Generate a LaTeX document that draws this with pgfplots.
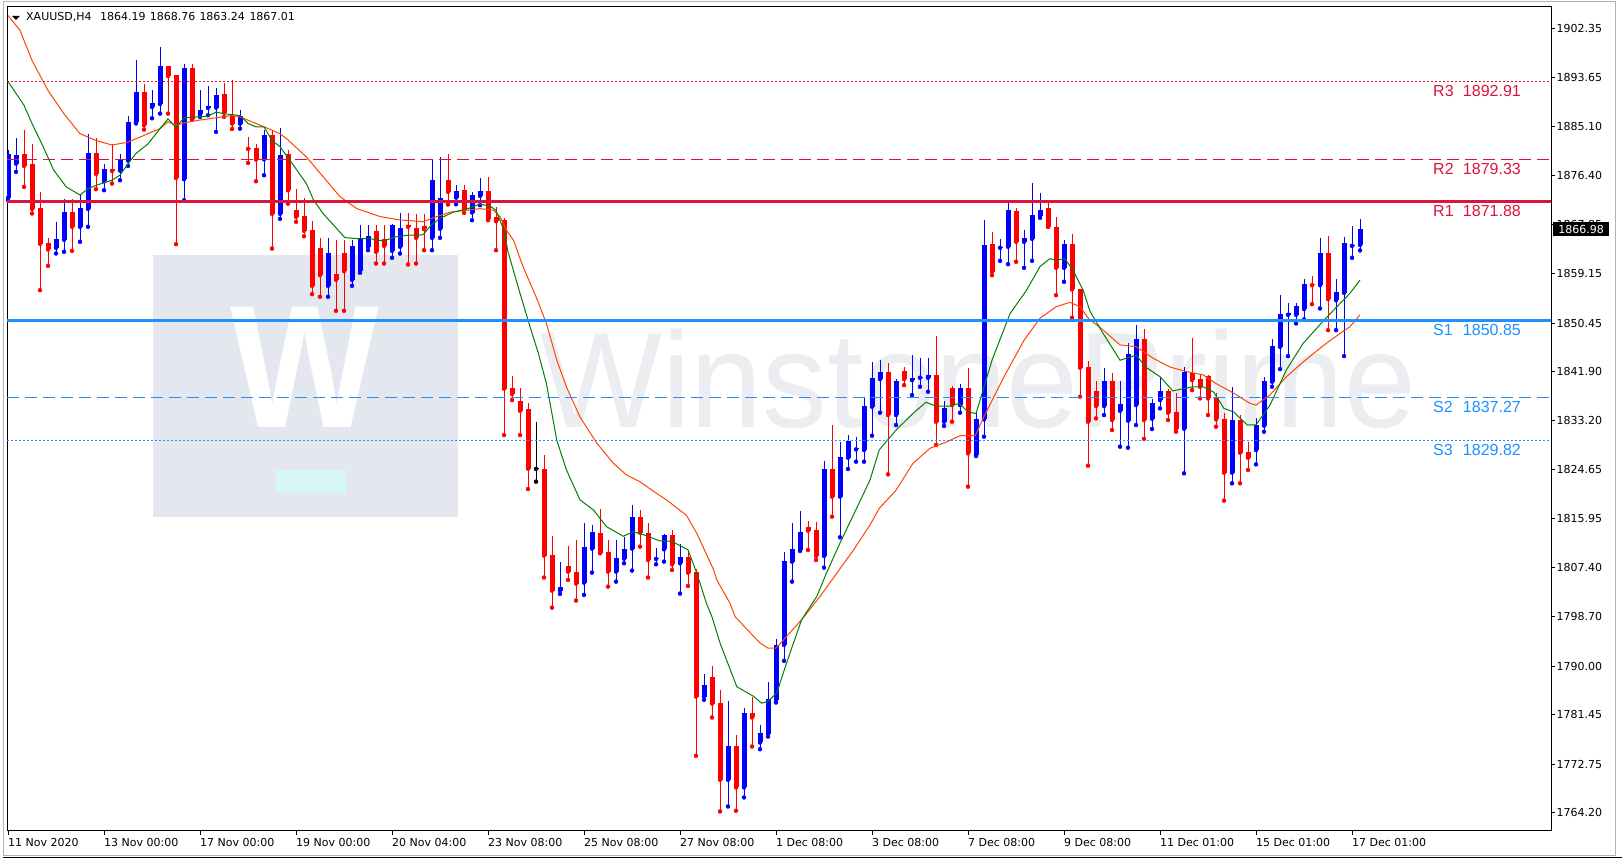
\documentclass[border=0pt]{standalone}
\usepackage{pgfplots}
\pgfplotsset{compat=1.18}
\usepackage{pgfplotstable}
\usepackage{fontspec}
\setmainfont{DejaVu Sans}
\newfontfamily\lvlfont{Liberation Sans}

\definecolor{crim}{RGB}{220,20,60}
\definecolor{dblue}{RGB}{30,144,255}
\definecolor{maGreen}{RGB}{0,128,0}
\definecolor{maOrange}{RGB}{255,69,0}
\definecolor{wmbox}{RGB}{229,231,239}
\definecolor{wmtext}{RGB}{236,237,240}
\definecolor{wmcyan}{RGB}{214,247,250}

% H4 bars, XAUUSD: index, open, high, low, close
\pgfplotstableread{
i o h l c
0 1872.49 1880.88 1872.08 1880.29
1 1878.53 1883.11 1877.07 1880.00
2 1880.18 1884.40 1874.43 1878.12
3 1878.42 1881.94 1869.74 1870.55
4 1870.67 1873.49 1856.24 1864.39
5 1864.57 1865.51 1860.52 1863.40
6 1863.69 1868.21 1862.70 1865.22
7 1865.10 1872.31 1862.99 1869.97
8 1869.97 1872.31 1863.16 1867.39
9 1867.39 1873.08 1864.75 1870.67
10 1870.55 1883.69 1867.39 1880.35
11 1880.35 1882.99 1874.02 1876.71
12 1875.42 1878.47 1873.84 1877.54
13 1877.54 1882.05 1875.01 1877.24
14 1877.30 1880.29 1875.60 1879.12
15 1879.06 1886.86 1878.12 1885.81
16 1885.81 1896.72 1885.60 1891.09
17 1891.09 1892.50 1884.52 1885.28
18 1888.50 1891.44 1886.51 1889.21
19 1889.03 1899.07 1887.33 1895.66
20 1895.66 1895.70 1887.33 1893.96
21 1894.08 1894.10 1864.33 1876.01
22 1875.78 1896.13 1872.08 1895.31
23 1895.31 1896.01 1886.28 1886.30
24 1887.22 1891.56 1886.75 1887.92
25 1888.33 1892.26 1887.04 1888.62
26 1888.39 1891.91 1884.11 1890.68
27 1890.74 1892.73 1886.75 1887.51
28 1886.86 1893.32 1884.63 1885.57
29 1885.57 1887.92 1884.69 1886.86
30 1881.35 1883.17 1878.65 1881.11
31 1881.23 1881.94 1875.42 1879.24
32 1879.29 1884.40 1876.48 1883.52
33 1883.52 1884.40 1863.57 1869.68
34 1869.68 1884.81 1868.79 1880.00
35 1880.18 1880.88 1871.49 1873.84
36 1870.32 1874.02 1868.27 1869.15
37 1869.27 1872.55 1865.74 1866.68
38 1866.80 1868.38 1855.54 1857.00
39 1863.63 1865.51 1855.07 1858.88
40 1857.00 1865.51 1855.07 1862.87
41 1859.06 1865.04 1852.60 1858.06
42 1862.87 1865.04 1852.60 1859.58
43 1858.06 1865.04 1857.00 1863.98
44 1859.64 1867.68 1859.29 1865.33
45 1863.87 1867.68 1863.28 1865.74
46 1866.62 1867.68 1860.93 1862.99
47 1865.33 1867.68 1860.93 1864.04
48 1863.16 1867.97 1861.93 1867.68
49 1863.87 1869.85 1862.69 1867.15
50 1867.68 1869.85 1860.76 1867.39
51 1867.15 1869.73 1860.93 1865.45
52 1867.50 1869.73 1863.28 1866.98
53 1865.45 1879.41 1863.28 1875.60
54 1867.03 1879.71 1865.45 1872.55
55 1875.60 1880.18 1871.32 1873.55
56 1872.55 1874.84 1871.37 1873.66
57 1873.84 1874.84 1869.85 1870.50
58 1869.91 1873.55 1868.56 1872.96
59 1872.84 1876.01 1871.20 1873.72
60 1873.66 1876.19 1868.56 1868.74
61 1869.15 1870.91 1863.28 1868.38
62 1868.56 1869.03 1830.72 1838.88
63 1838.93 1841.11 1836.88 1837.94
64 1836.70 1838.93 1830.72 1834.99
65 1835.30 1836.30 1821.22 1824.80
66 1824.86 1832.95 1822.51 1824.86
67 1824.74 1827.20 1805.62 1809.49
68 1809.60 1812.95 1800.33 1803.33
69 1803.33 1808.43 1802.74 1804.03
70 1807.67 1811.19 1805.20 1806.67
71 1806.61 1812.24 1801.57 1804.56
72 1804.73 1815.29 1802.57 1811.01
73 1810.72 1814.88 1806.49 1813.65
74 1813.48 1817.64 1809.90 1810.01
75 1810.13 1812.24 1804.03 1806.67
76 1806.67 1812.24 1804.91 1809.08
77 1808.96 1812.83 1808.14 1810.66
78 1810.72 1818.40 1806.85 1816.29
79 1816.29 1817.52 1811.07 1813.53
80 1813.53 1815.29 1805.62 1808.72
81 1808.90 1810.90 1807.96 1809.08
82 1810.60 1813.24 1808.43 1813.12
83 1813.12 1814.00 1806.96 1807.96
84 1808.14 1811.48 1802.80 1809.25
85 1809.25 1810.07 1804.15 1806.49
86 1806.61 1807.14 1774.23 1784.67
87 1784.67 1788.66 1784.09 1786.73
88 1788.13 1790.07 1780.98 1783.44
89 1783.56 1785.85 1764.43 1770.01
90 1770.01 1783.97 1765.31 1775.99
91 1775.99 1777.93 1764.55 1768.66
92 1768.66 1782.68 1766.90 1781.80
93 1781.80 1784.67 1775.87 1780.98
94 1776.58 1779.69 1775.40 1778.28
95 1778.10 1787.31 1777.63 1784.20
96 1784.09 1794.82 1783.62 1793.76
97 1793.76 1810.19 1790.95 1808.55
98 1808.43 1815.18 1804.91 1810.66
99 1810.48 1817.35 1810.31 1813.71
100 1814.53 1815.59 1810.48 1813.89
101 1814.00 1815.35 1808.72 1809.43
102 1809.43 1826.20 1807.37 1824.70
103 1824.74 1832.48 1816.35 1819.87
104 1819.87 1829.55 1812.71 1826.91
105 1826.73 1830.72 1824.74 1829.72
106 1828.20 1830.43 1826.03 1828.49
107 1828.09 1837.29 1826.03 1835.83
108 1835.71 1843.63 1830.60 1840.70
109 1840.58 1843.92 1834.65 1841.81
110 1841.81 1843.45 1823.80 1834.24
111 1834.24 1840.52 1832.48 1840.23
112 1841.99 1842.75 1839.52 1840.58
113 1840.40 1844.80 1837.76 1840.70
114 1840.81 1844.21 1839.23 1840.93
115 1840.81 1844.21 1838.35 1841.28
116 1841.28 1848.20 1828.96 1833.07
117 1833.07 1836.70 1832.31 1835.53
118 1838.93 1839.35 1833.07 1836.00
119 1836.00 1839.70 1834.65 1838.93
120 1838.93 1842.45 1821.63 1827.49
121 1827.20 1834.65 1827.03 1833.48
122 1833.48 1868.56 1830.43 1864.16
123 1864.34 1866.51 1858.88 1859.47
124 1863.69 1865.33 1861.40 1863.87
125 1863.87 1871.79 1860.82 1870.32
126 1870.14 1870.73 1861.23 1864.75
127 1864.75 1866.92 1860.17 1865.39
128 1865.27 1875.19 1861.40 1869.44
129 1869.32 1873.37 1868.97 1870.32
130 1870.73 1871.79 1867.39 1867.40
131 1867.39 1869.15 1855.36 1860.17
132 1860.17 1865.16 1857.71 1864.34
133 1864.34 1866.09 1851.37 1856.36
134 1856.36 1856.40 1837.47 1842.57
135 1842.63 1843.80 1825.32 1833.07
136 1838.47 1840.23 1833.66 1835.83
137 1835.83 1842.46 1834.24 1840.23
138 1840.23 1841.58 1831.60 1833.36
139 1835.00 1840.23 1828.67 1836.18
140 1833.25 1846.97 1828.49 1844.98
141 1836.00 1850.08 1832.48 1847.62
142 1847.62 1849.38 1830.02 1833.36
143 1833.60 1837.06 1831.78 1836.30
144 1836.88 1840.81 1835.42 1838.47
145 1838.47 1838.82 1833.36 1834.65
146 1834.77 1838.06 1831.31 1831.84
147 1831.84 1842.63 1823.98 1841.75
148 1841.58 1847.74 1838.64 1840.40
149 1840.64 1841.28 1837.18 1839.23
150 1841.11 1841.28 1834.24 1837.18
151 1837.29 1838.06 1832.19 1833.48
152 1833.54 1834.54 1819.17 1824.09
153 1824.09 1839.11 1822.22 1833.36
154 1833.36 1834.24 1822.22 1827.61
155 1827.73 1829.55 1824.56 1826.73
156 1828.08 1833.66 1825.56 1832.48
157 1832.37 1840.87 1831.31 1840.23
158 1840.11 1847.56 1839.23 1846.39
159 1846.27 1855.36 1842.34 1852.02
160 1851.90 1854.01 1844.63 1852.19
161 1851.90 1854.01 1850.38 1853.43
162 1852.90 1858.29 1851.08 1857.30
163 1857.30 1858.70 1853.78 1857.12
164 1857.12 1865.45 1853.01 1862.81
165 1862.81 1865.80 1849.20 1854.66
166 1854.48 1858.18 1849.20 1855.95
167 1855.77 1865.63 1844.63 1864.57
168 1864.04 1867.50 1861.93 1864.28
169 1864.19 1868.76 1863.24 1867.01
}\candles

% fast moving average (green)
\pgfplotstableread{
i v
0 1893.0
2 1888.8
3 1885.6
4.4 1881.5
5.7 1877.4
7.3 1874.4
9 1873.0
10 1874.1
11 1874.7
13 1875.6
14 1876.5
15 1878.5
16 1880.3
17.5 1882.0
18.5 1883.8
20 1886.4
21 1884.9
22 1886.6
23 1886.7
25 1886.9
26 1887.6
27 1887.3
29 1887.0
30 1885.6
31 1885.0
32 1885.0
33 1882.6
34 1881.5
35.7 1878.2
37.3 1875.0
38.2 1872.1
39.4 1869.7
40.7 1867.7
42.1 1865.5
43.6 1865.3
45.3 1865.3
46.9 1864.9
48.4 1865.6
49.8 1865.9
51.9 1866.0
52.9 1867.7
54 1868.9
55.7 1870.0
57.3 1870.5
59 1871.4
60.3 1871.0
61 1870.3
62 1866.8
62.5 1863.0
64 1855.7
65.25 1849.8
66.3 1845.1
67.3 1839.8
68.6 1829.8
69.8 1824.6
71.5 1819.3
73.2 1817.5
74.8 1814.6
76.9 1812.9
78.2 1813.7
79.8 1813.0
81.4 1812.1
83 1812.0
85 1810.5
86.1 1806.4
87.3 1801.1
88 1798.7
89 1794.1
91.1 1786.4
93.2 1784.7
94.2 1783.5
95 1783.8
96.1 1785.3
97.3 1790.5
99.2 1798.2
101.1 1802.3
102.3 1806.4
104 1811.7
106.2 1818.2
107.75 1822.8
108.9 1828.1
111 1831.6
113.1 1834.5
114.75 1836.5
116 1835.8
117.6 1835.8
118.9 1836.3
120 1834.8
121 1834.5
122 1839.2
123 1843.9
125.25 1852.1
127.3 1856.2
129 1860.4
130.25 1861.8
131 1861.5
132.1 1861.8
133.1 1859.8
134.4 1856.2
135.25 1852.5
136.9 1848.6
139 1843.9
141 1844.8
142.3 1842.6
144 1841.0
145.6 1838.5
148 1839.2
149.4 1839.2
150.7 1838.3
152 1835.4
153.2 1834.8
154.9 1832.5
156 1832.5
157.75 1836.0
159.8 1842.2
161.9 1846.9
164.6 1851.1
166.5 1853.9
167.75 1855.7
169 1858.0
}\maFast

% slow moving average (orange-red)
\pgfplotstableread{
i v
0 1904.6
1.5 1902.0
3 1896.7
5 1891.4
7 1887.3
9 1883.8
11 1882.6
13 1881.8
15 1882.3
17.5 1883.8
19 1884.7
20 1885.9
21 1885.3
22 1885.7
24 1886.2
26 1886.6
28 1887.0
29 1886.75
31 1885.6
32 1885.0
34 1883.8
35 1882.7
37.3 1879.7
39.4 1876.2
41.5 1872.7
43.6 1870.6
46.5 1869.2
49 1868.6
51.9 1868.3
53.6 1869.2
55.3 1870.0
57.3 1870.3
59 1870.6
60.7 1870.3
61.5 1869.2
62.3 1866.8
63.2 1865.0
64.4 1860.3
66 1855.1
67.3 1850.4
68.6 1843.9
69.8 1839.2
71.5 1833.9
73.6 1829.3
75.7 1825.7
77.3 1823.7
79 1822.5
80.7 1820.8
82.3 1819.3
84.8 1816.6
86.1 1813.4
88.2 1807.0
88.6 1805.2
90.25 1801.1
90.9 1798.7
94 1794.1
95 1793.2
96 1793.2
99.2 1798.2
101.5 1802.3
103.6 1806.4
105.7 1810.5
107.75 1814.9
108.9 1817.8
111 1821.0
113.1 1825.7
115.25 1828.4
117.3 1829.5
119 1830.6
120.9 1830.6
122 1834.0
124.5 1841.0
127 1847.4
129 1851.3
131 1853.3
132.75 1854.1
134 1853.3
135.1 1851.2
136.9 1849.2
139 1846.6
141 1846.3
143.2 1844.2
145.25 1842.7
147.3 1841.9
149.4 1841.3
151 1839.8
153.2 1838.1
155.25 1836.3
156 1836.0
157.75 1837.8
159.8 1841.0
161.9 1843.6
164 1846.0
165 1847.1
166.5 1848.6
167.75 1849.8
169 1851.9
}\maSlow

\pgfplotsset{
  wick/.style={only marks, mark=none, forget plot,
    error bars/y dir=plus, error bars/y explicit, error bars/error mark=none,
    error bars/error bar style={line width=1pt}},
  body/.style={only marks, mark=none, forget plot,
    error bars/y dir=plus, error bars/y explicit, error bars/error mark=none,
    error bars/error bar style={line width=5pt}},
}

\begin{document}
\begin{tikzpicture}[x=1pt,y=1pt]
\useasboundingbox (0,0) rectangle (1622,866);
\fill[white] (0,0) rectangle (1622,866);
% window frame
\draw[gray!60, line width=1pt] (3,10) rectangle (1615,864);
\draw[black, line width=1pt] (3,8.5) -- (1622,8.5);

% watermark
\fill[wmbox] (153,349) rectangle (458,611);
\node[inner sep=0pt, anchor=base, text=white, font=\lvlfont\bfseries\fontsize{175}{175}\selectfont]
  at (304.5,438) {\scalebox{0.9}[1]{W}};
\fill[wmcyan] (276,373) rectangle (346,396);
\node[inner sep=0pt, anchor=base west, text=wmtext, font=\lvlfont\fontsize{136}{136}\selectfont]
  at (540,438) {\scalebox{0.95}[1]{WinstonePrime}};

% header
\fill[black] (12,850) -- (20,850) -- (16,846) -- cycle;
\begin{scope}[every node/.style={inner sep=0pt, anchor=base west, font=\fontsize{11}{13}\selectfont}]
\node at (26,845) {XAUUSD,H4};
\node at (100,845) {1864.19};
\node at (149.7,845) {1868.76};
\node at (199.3,845) {1863.24};
\node at (249.3,845) {1867.01};
\end{scope}

\begin{axis}[
  at={(7pt,35pt)}, anchor=south west,
  scale only axis, width=1544pt, height=824pt,
  xmin=-0.125, xmax=192.875, ymin=1760.99, ymax=1906.11,
  clip mode=individual,
  axis line style={black, line width=1pt},
  tick align=outside, major tick length=4pt,
  tick style={black, line width=1pt},
  xtick pos=bottom, ytick pos=right, yticklabel pos=right,
  xtick={0,12,...,168},
  xticklabels={11 Nov 2020,13 Nov 00:00,17 Nov 00:00,19 Nov 00:00,20 Nov 04:00,23 Nov 08:00,25 Nov 08:00,27 Nov 08:00,1 Dec 08:00,3 Dec 08:00,7 Dec 08:00,9 Dec 08:00,11 Dec 01:00,15 Dec 01:00,17 Dec 01:00},
  ytick={1764.20,1772.75,1781.45,1790.00,1798.70,1807.40,1815.95,1824.65,1833.20,1841.90,1850.45,1859.15,1867.85,1876.40,1885.10,1893.65,1902.35},
  yticklabels={1764.20,1772.75,1781.45,1790.00,1798.70,1807.40,1815.95,1824.65,1833.20,1841.90,1850.45,1859.15,1867.85,1876.40,1885.10,1893.65,1902.35},
  xticklabel style={anchor=north west, inner xsep=0pt, inner ysep=3pt, font=\fontsize{11}{13}\selectfont},
  yticklabel style={anchor=west, inner xsep=1.5pt, font=\fontsize{11}{13}\selectfont},
]

% wicks
\addplot[wick, blue, restrict expr to domain={\thisrow{c}-\thisrow{o}}{0.001:1000}]
  table[x=i, y=l, y error expr=\thisrow{h}-\thisrow{l}] {\candles};
\addplot[wick, red, restrict expr to domain={\thisrow{c}-\thisrow{o}}{-1000:-0.001}]
  table[x=i, y=l, y error expr=\thisrow{h}-\thisrow{l}] {\candles};
\addplot[wick, black, restrict expr to domain={\thisrow{c}-\thisrow{o}}{-0.0005:0.0005}]
  table[x=i, y=l, y error expr=\thisrow{h}-\thisrow{l}] {\candles};
% bodies
\addplot[body, blue, restrict expr to domain={\thisrow{c}-\thisrow{o}}{0.001:1000}]
  table[x=i, y expr={min(\thisrow{o},\thisrow{c})}, y error expr={max(abs(\thisrow{c}-\thisrow{o}),0.2)}] {\candles};
\addplot[body, red, restrict expr to domain={\thisrow{c}-\thisrow{o}}{-1000:-0.001}]
  table[x=i, y expr={min(\thisrow{o},\thisrow{c})}, y error expr={max(abs(\thisrow{c}-\thisrow{o}),0.2)}] {\candles};
\addplot[body, black, restrict expr to domain={\thisrow{c}-\thisrow{o}}{-0.0005:0.0005}]
  table[x=i, y expr={min(\thisrow{o},\thisrow{c})-0.1}, y error expr={0.2}] {\candles};

% moving averages
\addplot[maOrange, line width=1pt, mark=none] table[x=i, y=v] {\maSlow};
\addplot[maGreen, line width=1pt, mark=none] table[x=i, y=v] {\maFast};

% pivot levels
\addplot[crim, line width=1pt, dash pattern=on 2pt off 2pt] coordinates {(-0.125,1892.91) (192.875,1892.91)};
\addplot[crim, line width=1pt, dash pattern=on 12pt off 6pt] coordinates {(-0.125,1879.33) (192.875,1879.33)};
\addplot[crim, line width=2.6pt] coordinates {(-0.125,1871.88) (192.875,1871.88)};
\addplot[dblue, line width=2.6pt] coordinates {(-0.125,1850.85) (192.875,1850.85)};
\addplot[dblue, line width=1pt, dash pattern=on 12pt off 6pt] coordinates {(-0.125,1837.27) (192.875,1837.27)};
\addplot[dblue, line width=1pt, dash pattern=on 2pt off 2pt] coordinates {(-0.125,1829.82) (192.875,1829.82)};

\begin{scope}[every node/.style={inner sep=0pt, font=\lvlfont\fontsize{16}{18}\selectfont}]
\node[anchor=base west, text=crim] at (axis cs:178.125,1892.91) [yshift=-15pt] {R3};
\node[anchor=base east, text=crim] at (axis cs:189.125,1892.91) [yshift=-15pt] {1892.91};
\node[anchor=base west, text=crim] at (axis cs:178.125,1879.33) [yshift=-15pt] {R2};
\node[anchor=base east, text=crim] at (axis cs:189.125,1879.33) [yshift=-15pt] {1879.33};
\node[anchor=base west, text=crim] at (axis cs:178.125,1871.88) [yshift=-15pt] {R1};
\node[anchor=base east, text=crim] at (axis cs:189.125,1871.88) [yshift=-15pt] {1871.88};
\node[anchor=base west, text=dblue] at (axis cs:178.125,1850.85) [yshift=-15pt] {S1};
\node[anchor=base east, text=dblue] at (axis cs:189.125,1850.85) [yshift=-15pt] {1850.85};
\node[anchor=base west, text=dblue] at (axis cs:178.125,1837.27) [yshift=-15pt] {S2};
\node[anchor=base east, text=dblue] at (axis cs:189.125,1837.27) [yshift=-15pt] {1837.27};
\node[anchor=base west, text=dblue] at (axis cs:178.125,1829.82) [yshift=-15pt] {S3};
\node[anchor=base east, text=dblue] at (axis cs:189.125,1829.82) [yshift=-15pt] {1829.82};
\end{scope}

% current price tag
\node[fill=black, text=white, inner sep=0pt, minimum width=56pt, minimum height=14pt,
  anchor=west, font=\fontsize{11}{13}\selectfont] at (axis cs:192.875,1866.98) [xshift=2pt] {1866.98};
\end{axis}
\end{tikzpicture}
\end{document}
